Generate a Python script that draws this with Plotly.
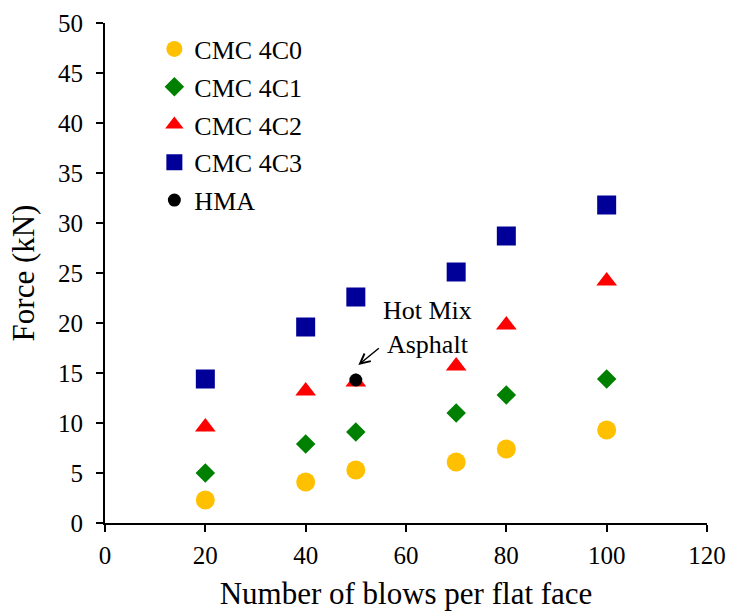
import plotly.graph_objects as go

blows = [20, 40, 50, 70, 80, 100]
cmc_4c0 = [2.3, 4.1, 5.3, 6.1, 7.4, 9.3]
cmc_4c1 = [5.0, 7.9, 9.1, 11.0, 12.8, 14.4]
cmc_4c2 = [9.6, 13.2, 14.1, 15.7, 19.8, 24.2]
cmc_4c3 = [14.4, 19.6, 22.6, 25.1, 28.7, 31.8]
hma_x = [50]
hma_y = [14.3]

FONT = "Times New Roman, Liberation Serif, DejaVu Serif, serif"

series = [
    ("CMC 4C0", cmc_4c0, "circle", 19, "#FFC000"),
    ("CMC 4C1", cmc_4c1, "diamond", 15, "#008000"),
    ("CMC 4C2", cmc_4c2, "triangle-up", 18, "#FF0000"),
    ("CMC 4C3", cmc_4c3, "square", 19, "#000099"),
]

fig = go.Figure()
for name, ys, sym, size, col in series:
    fig.add_trace(go.Scatter(
        x=blows, y=ys, mode="markers", name=name, legendgroup=name,
        marker=dict(symbol=sym, size=size, color=col, line=dict(width=0)),
    ))
fig.add_trace(go.Scatter(
    x=hma_x, y=hma_y, mode="markers", name="HMA", legendgroup="HMA",
    marker=dict(symbol="circle", size=13, color="black", line=dict(width=0)),
))

axis_common = dict(
    showgrid=False, zeroline=False, linecolor="black", linewidth=2,
    ticks="outside", ticklen=7, tickwidth=2, tickcolor="black",
    tickfont=dict(family=FONT, size=25, color="black"),
    automargin=False,
)

fig.update_layout(
    width=729, height=611,
    margin=dict(l=105, r=22, t=23, b=88),
    paper_bgcolor="white", plot_bgcolor="white",
    font=dict(family=FONT, color="black"),
    xaxis=dict(range=[0, 120], dtick=20, tick0=0, **axis_common,
               ticklabelstandoff=2,
               title=dict(text="Number of blows per flat face",
                          font=dict(family=FONT, size=31, color="black"),
                          standoff=16)),
    yaxis=dict(range=[0, 50], dtick=5, tick0=0, **axis_common,
               ticklabelstandoff=8,
               title=dict(text="Force (kN)",
                          font=dict(family=FONT, size=31, color="black"),
                          standoff=14)),
    xaxis2=dict(range=[0, 120], dtick=20, tick0=0, overlaying="x", anchor="y",
                showgrid=False, zeroline=False, showline=False,
                ticks="inside", ticklen=7, tickwidth=2, tickcolor="black",
                showticklabels=False),
    yaxis2=dict(range=[0, 50], dtick=5, tick0=0, overlaying="y", anchor="x",
                showgrid=False, zeroline=False, showline=False,
                ticks="inside", ticklen=7, tickwidth=2, tickcolor="black",
                showticklabels=False),
    legend=dict(x=0.082, y=0.995, xanchor="left", yanchor="top",
                bgcolor="rgba(0,0,0,0)", borderwidth=0,
                font=dict(family=FONT, size=26, color="black"),
                traceorder="grouped", tracegroupgap=1),
    showlegend=True,
)

fig.add_annotation(x=50.5, y=15.8, xref="x", yref="y", text="",
                   showarrow=True, arrowhead=5, arrowsize=1.3, arrowwidth=1.5,
                   arrowcolor="black", ax=22, ay=-18, standoff=0)
fig.add_annotation(x=64.3, y=19.6, xref="x", yref="y",
                   text="Hot Mix<br>Asphalt", showarrow=False,
                   font=dict(family=FONT, size=26, color="black"))

fig.write_html("out.html")
